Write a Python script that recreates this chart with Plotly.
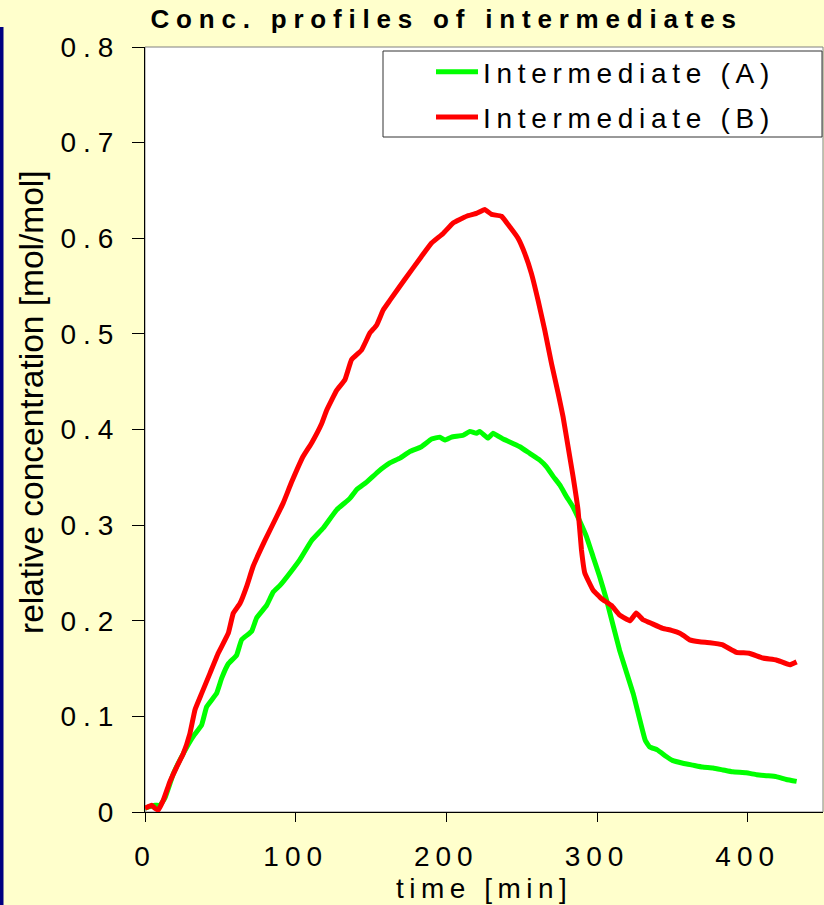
import plotly.graph_objects as go

# ---- data ----
time_a = [0, 6.6, 10, 13.3, 18.8, 25.4, 32, 37.6, 40.9, 47.5, 50.9, 55.3, 60.8, 64.1,
          70.8, 74.1, 80.7, 85.1, 89.6, 96.2, 102.8, 110.6, 118.3, 127.2, 136, 140.4,
          147.1, 154.8, 162.5, 169.2, 175.8, 183.5, 190.2, 195.7, 199, 203.4, 211.2,
          215.6, 220, 222.2, 227.7, 231, 237.7, 242.1, 248.8, 255.4, 262, 266.5, 270.9,
          275.3, 279.7, 284.1, 288.6, 293, 297.4, 301.8, 306.3, 315, 324, 332, 335, 340,
          346, 350, 357, 363.5, 370, 377, 383.6, 390, 399, 406, 412.4, 419, 425.7, 432.5]
conc_a = [0.004, 0.007, 0.007, 0.015, 0.040, 0.061, 0.079, 0.091, 0.110, 0.124, 0.140,
          0.155, 0.164, 0.180, 0.189, 0.203, 0.216, 0.230, 0.237, 0.250, 0.264, 0.284,
          0.297, 0.316, 0.328, 0.337, 0.345, 0.356, 0.365, 0.370, 0.377, 0.382, 0.390,
          0.392, 0.389, 0.392, 0.394, 0.398, 0.396, 0.398, 0.391, 0.396, 0.390, 0.387,
          0.382, 0.375, 0.368, 0.361, 0.351, 0.342, 0.330, 0.319, 0.304, 0.288, 0.267,
          0.246, 0.222, 0.169, 0.124, 0.075, 0.068, 0.065, 0.058, 0.054, 0.051, 0.049,
          0.047, 0.046, 0.044, 0.042, 0.041, 0.039, 0.038, 0.037, 0.034, 0.032]

time_b = [0, 4.4, 6.6, 8.8, 12.2, 16.6, 21, 25.4, 29.8, 33.2, 37.6, 43.1, 48.6, 55.3,
          58.6, 63, 67.5, 71.8, 79.6, 87.4, 91.7, 97.3, 105, 110.6, 117.2, 120.5, 127.2,
          132.7, 137.1, 143.7, 149.3, 153.7, 158.1, 162.5, 172, 183.5, 190.2, 197.9,
          204.5, 213.4, 220, 225.5, 230, 236.6, 242.1, 247.6, 252.1, 256.5, 260.9, 265.3,
          269.8, 274.2, 277.5, 280.8, 284.1, 287.4, 289.7, 291.9, 297.4, 303, 309.6, 315,
          322, 326, 330.5, 335, 343.6, 349.4, 355, 357, 361.5, 368, 375, 383, 392.5, 401,
          410, 419, 428, 432.5]
conc_b = [0.004, 0.007, 0.004, 0.002, 0.0125, 0.032, 0.047, 0.061, 0.082, 0.107, 0.124,
          0.145, 0.166, 0.187, 0.208, 0.218, 0.236, 0.257, 0.284, 0.309, 0.323, 0.345,
          0.372, 0.386, 0.406, 0.420, 0.441, 0.452, 0.473, 0.483, 0.501, 0.509, 0.525,
          0.535, 0.556, 0.581, 0.595, 0.605, 0.616, 0.623, 0.626, 0.630, 0.625, 0.623,
          0.612, 0.600, 0.584, 0.563, 0.535, 0.504, 0.469, 0.438, 0.413, 0.382, 0.351,
          0.316, 0.274, 0.250, 0.232, 0.223, 0.216, 0.206, 0.200, 0.208, 0.201, 0.198,
          0.192, 0.190, 0.187, 0.185, 0.180, 0.178, 0.177, 0.175, 0.167, 0.166, 0.161,
          0.159, 0.154, 0.157]

series_names = ["Intermediate (A)", "Intermediate (B)"]
series_colors = ["#00FF00", "#FF0000"]

x_ticks = [0, 100, 200, 300, 400]
x_tick_labels = ["0", "100", "200", "300", "400"]
y_ticks = [0, 0.1, 0.2, 0.3, 0.4, 0.5, 0.6, 0.7, 0.8]
y_tick_labels = ["0", "0.1", "0.2", "0.3", "0.4", "0.5", "0.6", "0.7", "0.8"]

title_text = "Conc. profiles of intermediates"
x_title = "time [min]"
y_title = "relative concentration [mol/mol]"

# ---- layout constants ----
W, H = 824, 905
ML, MR, MT, MB = 145, 1, 47, 93
PW, PH = W - ML - MR, H - MT - MB
BG = "#FFFFCC"
FONT = "Arial, Liberation Sans, sans-serif"


def spaced(s, px):
    return '<span style="letter-spacing:%spx">%s</span>' % (px, s)


def px_x(p):
    return (p - ML) / PW


def px_y(p):
    return (H - MB - p) / PH


fig = go.Figure()
for i, (t, c, n, col) in enumerate([(time_a, conc_a, series_names[0], series_colors[0]),
                                    (time_b, conc_b, series_names[1], series_colors[1])]):
    fig.add_trace(go.Scatter(x=t, y=c, mode="lines", name=spaced(n, 5.7),
                             legendgroup="g%d" % i,
                             line=dict(color=col, width=5, shape="spline", smoothing=0.3)))

fig.update_layout(
    width=W, height=H,
    margin=dict(l=ML, r=MR, t=MT, b=MB),
    paper_bgcolor=BG, plot_bgcolor="white",
    font=dict(family=FONT, color="black", size=28),
    showlegend=True,
    legend=dict(x=px_x(431), y=px_y(47), xanchor="left", yanchor="top",
                bgcolor="rgba(0,0,0,0)", borderwidth=0,
                font=dict(size=28, family=FONT), itemwidth=42, tracegroupgap=6),
    title=dict(text="<b>" + spaced(title_text, 6.8) + "</b>", xref="container",
               x=0.542, xanchor="center", y=1 - 19 / H, yanchor="middle",
               font=dict(size=26, family=FONT, color="black")),
)

fig.update_xaxes(range=[0, 450], tickmode="array", tickvals=x_ticks,
                 ticktext=[spaced(s, 6) for s in x_tick_labels],
                 ticks="outside", ticklen=9, tickwidth=1, tickcolor="black",
                 showline=True, linecolor="black", linewidth=1,
                 showgrid=False, zeroline=False, ticklabelstandoff=10,
                 tickfont=dict(size=28, family=FONT))
fig.update_yaxes(range=[0, 0.8], tickmode="array", tickvals=y_ticks,
                 ticktext=[spaced(s, 7) for s in y_tick_labels],
                 ticks="outside", ticklen=12, tickwidth=1, tickcolor="black",
                 showline=True, linecolor="black", linewidth=1,
                 showgrid=False, zeroline=False, ticklabelstandoff=6,
                 tickfont=dict(size=28, family=FONT))

shapes = [
    # plot frame (gray top/right)
    dict(type="rect", xref="paper", yref="paper", x0=0, x1=1, y0=0, y1=1,
         line=dict(color="#808080", width=1), fillcolor="rgba(0,0,0,0)", layer="below"),
    # legend box
    dict(type="rect", xref="paper", yref="paper", x0=px_x(383), x1=px_x(822),
         y0=px_y(137), y1=px_y(51), line=dict(color="#333333", width=1),
         fillcolor="white", layer="above"),
    # dark blue bar at left edge
    dict(type="rect", xref="paper", yref="paper", x0=px_x(0), x1=px_x(3.5),
         y0=px_y(H + 5), y1=px_y(27), line=dict(width=0), fillcolor="#000080",
         layer="above"),
]
fig.update_layout(shapes=shapes)

fig.add_annotation(text=y_title, xref="paper", yref="paper", x=px_x(31), y=px_y(402),
                   xanchor="center", yanchor="middle", textangle=-90, showarrow=False,
                   font=dict(size=33.5, family=FONT, color="black"))
fig.add_annotation(text=spaced(x_title, 5.5), xref="paper", yref="paper", x=px_x(484),
                   y=px_y(888), xanchor="center", yanchor="middle", showarrow=False,
                   font=dict(size=28, family=FONT, color="black"))

fig.write_html("out.html", config={"displayModeBar": False},
               post_script="document.body.style.margin='0px';"
                           "document.body.style.overflow='hidden';")
